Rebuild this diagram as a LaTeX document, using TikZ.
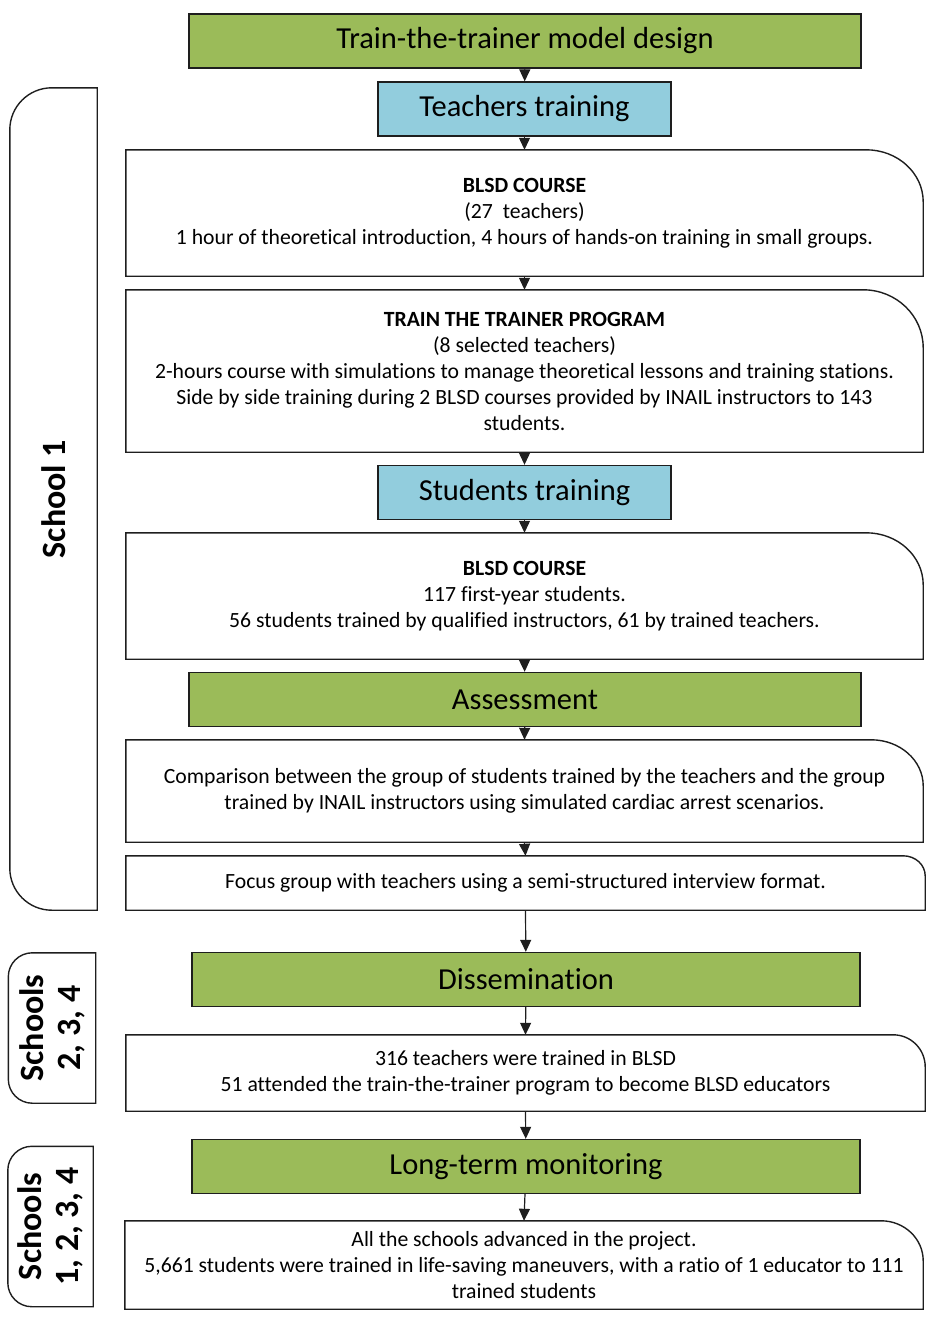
\documentclass[tikz,border=0pt]{standalone}
\usepackage{fontspec}
\setmainfont{Carlito}[Ligatures={NoCommon,NoContextual},RawFeature={-liga,-clig,-calt}]
\usetikzlibrary{arrows.meta}
\definecolor{grn}{RGB}{155,187,89}
\definecolor{blu}{RGB}{146,205,221}
\definecolor{edge}{RGB}{30,30,30}
\newcommand\cornerbox[3]{%
  \draw[outline] (#1.south west) -- (#1.north west) -- ([xshift=-#2pt]#1.north east)
    .. controls ([xshift={-0.4477*#2pt}]#1.north east) and ([yshift={-0.4477*#3pt}]#1.north east)
    .. ([yshift=-#3pt]#1.north east) -- (#1.south east) -- cycle;}
\newcommand\bracketbox[2]{%
  \draw[outline] (#1.north east) -- ([xshift=#2pt]#1.north west)
    .. controls ([xshift={0.4477*#2pt}]#1.north west) and ([yshift={-0.4477*#2pt}]#1.north west)
    .. ([yshift=-#2pt]#1.north west) -- ([yshift=#2pt]#1.south west)
    .. controls ([yshift={0.4477*#2pt}]#1.south west) and ([xshift={0.4477*#2pt}]#1.south west)
    .. ([xshift=#2pt]#1.south west) -- (#1.south east) -- cycle;}
\begin{document}
\begin{tikzpicture}[x=1pt,y=-1pt,
  outline/.style={draw=edge,line width=1.4pt},
  title/.style={draw=edge,line width=1.4pt,inner sep=0pt,font=\fontsize{30.5}{34}\selectfont},
  greenbox/.style={title,fill=grn,minimum width=672pt,minimum height=54pt},
  bluebox/.style={title,fill=blu,minimum width=293pt,minimum height=54pt},
  textbox/.style={inner sep=0pt,minimum width=797pt,align=center,font=\fontsize{21.7}{26}\selectfont},
  sidelabel/.style={rotate=90,align=center,font=\bfseries\fontsize{34}{37}\selectfont},
  arr/.style={draw=edge,line width=1.2pt,-{Triangle[width=11pt,length=12pt]}}]
\useasboundingbox (0,0) rectangle (935,1318);

% main column
\node[greenbox] (design) at (525,41) {\raisebox{-2pt}{Train-the-trainer model design}};
\node[bluebox] (teach) at (524.5,109) {\raisebox{-2pt}{Teachers training}};
\node[textbox,minimum height=126pt] (blsdA) at (524.5,213) {\textbf{BLSD COURSE}\\(27~~teachers)\\1 hour of theoretical introduction, 4 hours of hands-on training in small groups.};
\node[textbox,minimum height=162pt] (ttt) at (524.5,371) {\textbf{TRAIN THE TRAINER PROGRAM}\\(8 selected teachers)\\2-hours course with simulations to manage theoretical lessons and training stations.\\Side by side training during 2 BLSD courses provided by INAIL instructors to 143\\students.};
\node[bluebox] (stud) at (524.5,492.5) {\raisebox{-2pt}{Students training}};
\node[textbox,minimum height=126pt] (blsdB) at (524.5,596) {\textbf{BLSD COURSE}\\117 first-year students.\\56 students trained by qualified instructors, 61 by trained teachers.};
\node[greenbox] (assess) at (525,699.5) {\raisebox{-2pt}{Assessment}};
\node[textbox,minimum height=102pt] (comp) at (524.5,791) {Comparison between the group of students trained by the teachers and the group\\trained by INAIL instructors using simulated cardiac arrest scenarios.};
\node[textbox,minimum height=54pt,minimum width=799pt] (focus) at (525.5,883) {Focus group with teachers using a semi-structured interview format.};
\node[greenbox,minimum width=668pt] (diss) at (526,979.5) {\raisebox{-2pt}{Dissemination}};
\node[textbox,minimum height=76pt,minimum width=799pt] (edu) at (525.5,1073) {316 teachers were trained in BLSD\\51 attended the train-the-trainer program to become BLSD educators};
\node[greenbox,minimum width=668pt] (mon) at (526,1166.5) {\raisebox{-2pt}{Long-term monitoring}};
\node[textbox,minimum height=88pt,minimum width=798pt] (all) at (524,1265) {All the schools advanced in the project.\\5,661 students were trained in life-saving maneuvers, with a ratio of 1 educator to 111\\trained students};

\cornerbox{blsdA}{57}{52}
\cornerbox{ttt}{60}{58}
\cornerbox{blsdB}{57}{52}
\cornerbox{comp}{52}{46}
\cornerbox{focus}{22}{20}
\cornerbox{edu}{32}{32}
\cornerbox{all}{42}{40}

% side brackets
\node[minimum width=87pt,minimum height=822pt,inner sep=0pt] (s1) at (53.5,499) {};
\node[minimum width=87pt,minimum height=150pt,inner sep=0pt] (s2) at (52,1028) {};
\node[minimum width=85pt,minimum height=160pt,inner sep=0pt] (s3) at (50.5,1226.5) {};
\bracketbox{s1}{42}
\bracketbox{s2}{24}
\bracketbox{s3}{24}
\node[sidelabel] (l1) at (s1) {School 1};
\node[sidelabel] (l2) at (s2) {Schools\\2, 3, 4};
\node[sidelabel] (l3) at (s3) {Schools\\1, 2, 3, 4};

% connectors
\draw[arr] (design) -- (teach);
\draw[arr] (teach) -- (blsdA.north);
\draw[arr] (blsdA.south) -- (ttt.north);
\draw[arr] (ttt.south) -- (stud);
\draw[arr] (stud) -- (blsdB.north);
\draw[arr] (blsdB.south) -- (assess);
\draw[arr] (assess) -- (comp.north);
\draw[arr] (comp.south) -- (focus.north);
\draw[arr] (focus.south) -- (diss);
\draw[arr] (diss) -- (edu.north);
\draw[arr] (edu.south) -- (mon);
\draw[arr] (mon) -- (all.north);
\end{tikzpicture}
\end{document}
